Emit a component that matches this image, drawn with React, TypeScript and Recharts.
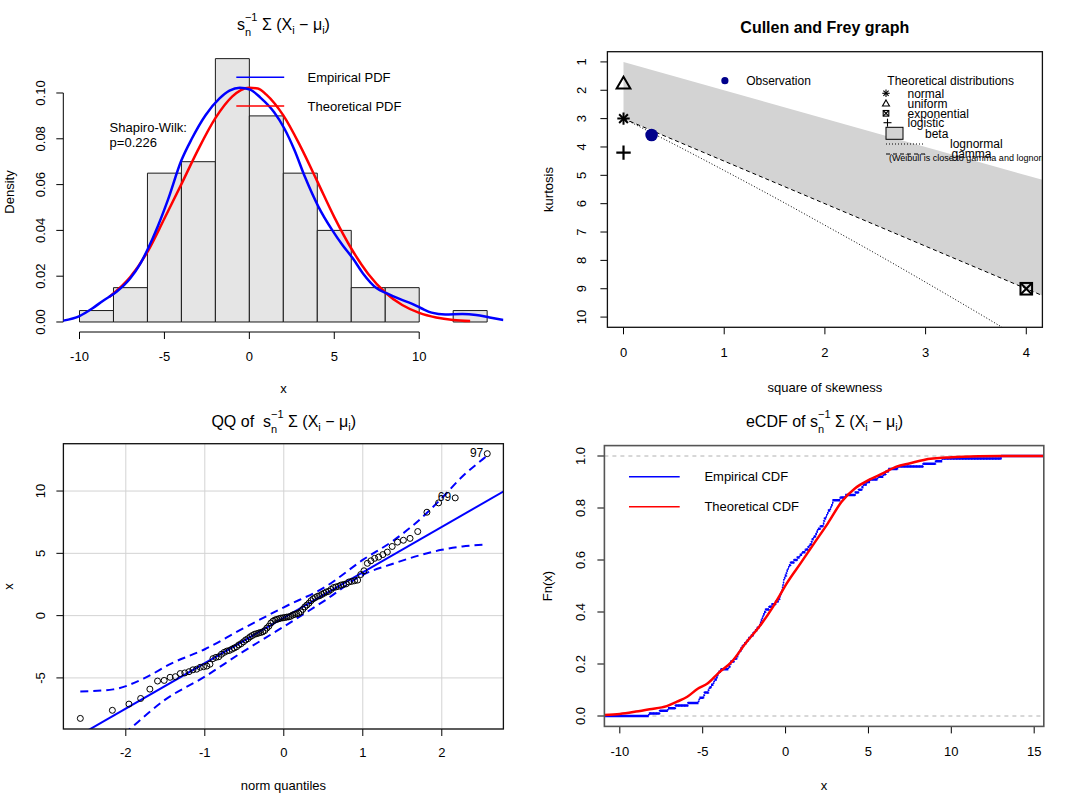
import React from 'react';
import { ComposedChart, Line, Scatter, Area, XAxis, YAxis, ReferenceArea, ReferenceLine, CartesianGrid } from 'recharts';

const FONT = '"Liberation Sans", Arial, Helvetica, sans-serif';

// ===== Panel 1: histogram with empirical / theoretical densities =====
const histBreaks = [-10, -8, -6, -4, -2, 0, 2, 4, 6, 8, 10, 12, 14];
const histDensity = [0.005, 0.015, 0.065, 0.07, 0.115, 0.09, 0.065, 0.04, 0.015, 0.015, 0, 0.005];
const kdeX = [-11.1, -10.95, -10, -9.23, -8.63, -7.82, -7.02, -6.41, -5.97, -5.4, -4.8, -4.0, -3.39, -2.58, -1.77, -1.17, -0.56, 0.04, 0.65, 1.45, 2.06, 2.66, 3.27, 4.07, 4.88, 5.48, 6.09, 6.69, 7.5, 8.1, 8.91, 9.52, 10.12, 10.73, 11.53, 12.54, 13.35, 14.15, 14.96];
const kdeY = [0.0004, 0.0006, 0.0026, 0.006, 0.0092, 0.0132, 0.019, 0.0256, 0.032, 0.0416, 0.0532, 0.0706, 0.080, 0.0903, 0.0975, 0.101, 0.1023, 0.1015, 0.098, 0.0917, 0.0845, 0.075, 0.0634, 0.0503, 0.0401, 0.0336, 0.0278, 0.0212, 0.0147, 0.0125, 0.0099, 0.0081, 0.006, 0.0041, 0.0033, 0.0035, 0.0031, 0.002, 0.0009];
const normPdfX = [-8.25, -7, -6, -5, -4, -3, -2, -1, -0.5, 0, 0.5, 1, 2, 3, 4, 5, 6, 7, 8, 9, 10, 11, 12, 13];
const normPdfY = [0.0109, 0.0197, 0.0306, 0.0452, 0.0602, 0.0755, 0.089, 0.0985, 0.1013, 0.1023, 0.102, 0.0993, 0.0902, 0.0768, 0.0614, 0.0458, 0.0321, 0.021, 0.0129, 0.0074, 0.004, 0.002, 0.0009, 0.0004];
const p1XTicks = [-10, -5, 0, 5, 10];
const p1YTicks = [0, 0.02, 0.04, 0.06, 0.08, 0.1];
const p1XDomain = [-10.954, 14.957];
const p1YDomain = [-0.004367, 0.11803];

// ===== Panel 2: Cullen and Frey graph =====
const p2XTicks = [0, 1, 2, 3, 4];
const p2YTicks = [1, 2, 3, 4, 5, 6, 7, 8, 9, 10];
const p2XDomain = [-0.16, 4.16];
const p2YDomain = [0.64, 10.36];
const betaX = [0, 4.16];
const betaUpperKurt = [1, 5.16];
const betaLowerKurt = [3, 9.24];
const gammaLineX = [0, 4.16];
const gammaLineY = [3, 9.24];
const lognormLineX = [0, 0.5, 1, 1.5, 2, 2.5, 3, 3.5, 4];
const lognormLineY = [3, 3.9, 4.83, 5.78, 6.76, 7.75, 8.77, 9.81, 10.87];
const cfObservation = [{ x: 0.279, y: 3.58 }];
const cfNormal = [{ x: 0, y: 3 }];
const cfUniform = [{ x: 0, y: 1.8 }];
const cfLogistic = [{ x: 0, y: 4.2 }];
const cfExponential = [{ x: 4, y: 9 }];

// ===== Panel 3: QQ plot =====
const qqTheoretical = [
  -2.5758, -2.1701, -1.96, -1.8119, -1.6954, -1.5982, -1.5141, -1.4395, -1.3722, -1.3106,
  -1.2536, -1.2004, -1.1503, -1.1031, -1.0581, -1.0152, -0.9741, -0.9346, -0.8965, -0.8596,
  -0.8239, -0.7892, -0.7554, -0.7225, -0.6903, -0.6588, -0.628, -0.5978, -0.5681, -0.5388,
  -0.5101, -0.4817, -0.4538, -0.4261, -0.3989, -0.3719, -0.3451, -0.3186, -0.2924, -0.2663,
  -0.2404, -0.2147, -0.1891, -0.1637, -0.1383, -0.113, -0.0878, -0.0627, -0.0376, -0.0125,
  0.0125, 0.0376, 0.0627, 0.0878, 0.113, 0.1383, 0.1637, 0.1891, 0.2147, 0.2404,
  0.2663, 0.2924, 0.3186, 0.3451, 0.3719, 0.3989, 0.4261, 0.4538, 0.4817, 0.5101,
  0.5388, 0.5681, 0.5978, 0.628, 0.6588, 0.6903, 0.7225, 0.7554, 0.7892, 0.8239,
  0.8596, 0.8965, 0.9346, 0.9741, 1.0152, 1.0581, 1.1031, 1.1503, 1.2004, 1.2536,
  1.3106, 1.3722, 1.4395, 1.5141, 1.5982, 1.6954, 1.8119, 1.96, 2.1701, 2.5758,
];
const qqSample = [
  -8.25, -7.6, -7.1, -6.65, -5.9, -5.25, -5.2, -4.95, -4.9, -4.65,
  -4.6, -4.5, -4.35, -4.3, -4.15, -4.1, -4.05, -3.9, -3.45, -3.35,
  -3.3, -3.1, -2.95, -2.85, -2.8, -2.7, -2.6, -2.5, -2.35, -2.25,
  -2.1, -1.95, -1.85, -1.7, -1.6, -1.5, -1.45, -1.4, -1.35, -1.3,
  -1.2, -1.0, -0.85, -0.6, -0.45, -0.35, -0.3, -0.25, -0.2, -0.18,
  -0.15, -0.12, -0.1, -0.05, 0.05, 0.1, 0.15, 0.2, 0.3, 0.5,
  0.7, 0.85, 1.0, 1.2, 1.35, 1.45, 1.55, 1.6, 1.7, 1.8,
  1.9, 1.95, 2.1, 2.25, 2.3, 2.35, 2.45, 2.5, 2.55, 2.7,
  2.75, 2.8, 2.85, 3.3, 3.6, 4.2, 4.4, 4.6, 4.7, 4.9,
  5.1, 5.55, 5.9, 6.05, 6.2, 6.75, 8.3, 9.05, 9.45, 13.0,
];
const qqLineX = [-2.79, 2.79];
const qqLineY = [-10.34, 10.0];
const envUpperX = [-2.576, -2.16, -1.77, -1.42, -1.0, -0.55, 0, 0.53, 1.0, 1.4, 1.74, 2.0, 2.26, 2.52, 2.576];
const envUpperY = [-6.1, -5.92, -5.04, -3.83, -2.7, -1.15, 0.67, 2.33, 4.47, 6.08, 7.82, 9.43, 11.17, 12.56, 12.85];
const envLowerX = [-2.576, -2.2, -1.94, -1.51, -1.0, -0.55, 0, 0.53, 1.0, 1.4, 1.74, 2.0, 2.26, 2.576];
const envLowerY = [-13.3, -10.5, -9.05, -6.78, -4.9, -3.03, -0.88, 1.26, 3.27, 4.2, 4.88, 5.28, 5.55, 5.7];
const qqLabels = [{ x: 2.5758, y: 13.0, label: '97' }, { x: 2.1701, y: 9.45, label: '69' }];
const p3XTicks = [-2, -1, 0, 1, 2];
const p3YTicks = [-5, 0, 5, 10];
const p3XDomain = [-2.79, 2.78];
const p3YDomain = [-9.1, 13.8];

// ===== Panel 4: eCDF =====
const cdfX = [-10.93, -10, -9.03, -8.2, -7.17, -6.55, -5.93, -5.3, -4.69, -4.07, -3.24, -2.41, -1.58, -0.76, -0.34, 0.07, 0.9, 1.72, 2.55, 3.38, 4.2, 5.03, 5.86, 6.69, 7.52, 8.34, 10, 11.65, 13, 15.58];
const cdfY = [0.004, 0.008, 0.017, 0.026, 0.038, 0.055, 0.074, 0.105, 0.126, 0.164, 0.209, 0.28, 0.344, 0.42, 0.465, 0.51, 0.587, 0.664, 0.741, 0.824, 0.876, 0.908, 0.933, 0.959, 0.972, 0.985, 0.995, 0.999, 1.0, 1.0];
const p4XTicks = [-10, -5, 0, 5, 10, 15];
const p4YTicks = [0, 0.2, 0.4, 0.6, 0.8, 1.0];
const p4XDomain = [-10.93, 15.58];
const p4YDomain = [-0.04, 1.04];

// ===== layout =====
type Geo = { figX: number; figY: number; figW: number; figH: number; left: number; top: number; right: number; bottom: number };
const G1: Geo = { figX: 0, figY: 0, figW: 538, figH: 396, left: 63.3, top: 51.7, right: 503.4, bottom: 332 };
const G2: Geo = { figX: 538, figY: 0, figW: 539, figH: 396, left: 607.4, top: 51.7, right: 1042.4, bottom: 327.3 };
const G3: Geo = { figX: 0, figY: 396, figW: 538, figH: 397, left: 63.4, top: 443.7, right: 503.4, bottom: 729 };
const G4: Geo = { figX: 538, figY: 396, figW: 539, figH: 397, left: 604.4, top: 445.6, right: 1043.8, bottom: 726.4 };

const AX = 0.01; // tiny axis thickness so the axis still renders its ticks

const marginOf = (g: Geo, ax: number = AX) => ({
  left: g.left - g.figX - ax,
  top: g.top - g.figY,
  right: g.figX + g.figW - g.right,
  bottom: g.figY + g.figH - g.bottom - ax,
});

const makeXTick = (g: Geo, centerBelow: number, fmt: (v: number) => string) => {
  const base = g.bottom - g.figY + centerBelow + 4.65;
  return (props: any) => (
    <text x={props.x} y={base} textAnchor="middle" fontSize={13} fontFamily={FONT} fill="#000">
      {fmt(props.payload.value)}
    </text>
  );
};
const makeYTick = (g: Geo, centerLeft: number, fmt: (v: number) => string) => {
  const bx = g.left - g.figX - centerLeft + 4.65;
  return (props: any) => (
    <text x={bx} y={props.y} transform={`rotate(-90 ${bx} ${props.y})`} textAnchor="middle" fontSize={13} fontFamily={FONT} fill="#000">
      {fmt(props.payload.value)}
    </text>
  );
};

const axisCommon = {
  type: 'number' as const,
  axisLine: false,
  tickLine: { stroke: '#000', strokeWidth: 1 },
  tickSize: 7,
  tickMargin: 0,
  interval: 0 as const,
  allowDataOverflow: true,
};

const zip = (xs: number[], ys: number[]) => xs.map((x, i) => ({ x, y: ys[i] }));

// ===== symbol shapes =====
const Asterisk = ({ cx, cy, a, w }: any) => {
  const d = a * 0.7071;
  return (
    <g stroke="#000" strokeWidth={w} strokeLinecap="butt">
      <line x1={cx - a} y1={cy} x2={cx + a} y2={cy} />
      <line x1={cx} y1={cy - a} x2={cx} y2={cy + a} />
      <line x1={cx - d} y1={cy - d} x2={cx + d} y2={cy + d} />
      <line x1={cx - d} y1={cy + d} x2={cx + d} y2={cy - d} />
    </g>
  );
};
const Triangle = ({ cx, cy, R, w }: any) => (
  <polygon
    points={`${cx},${cy - 1.555 * R} ${cx + 1.3468 * R},${cy + 0.7776 * R} ${cx - 1.3468 * R},${cy + 0.7776 * R}`}
    fill="none" stroke="#000" strokeWidth={w} strokeLinejoin="miter"
  />
);
const Plus = ({ cx, cy, a, w }: any) => (
  <g stroke="#000" strokeWidth={w}>
    <line x1={cx - a} y1={cy} x2={cx + a} y2={cy} />
    <line x1={cx} y1={cy - a} x2={cx} y2={cy + a} />
  </g>
);
const BoxX = ({ cx, cy, h, w }: any) => (
  <g stroke="#000" strokeWidth={w} fill="none">
    <rect x={cx - h} y={cy - h} width={2 * h} height={2 * h} />
    <line x1={cx - h} y1={cy - h} x2={cx + h} y2={cy + h} />
    <line x1={cx - h} y1={cy + h} x2={cx + h} y2={cy - h} />
  </g>
);

// ===== panels =====
function Panel1() {
  return (
    <>
      <div style={{ position: 'absolute', left: G1.figX, top: G1.figY }}>
        <ComposedChart width={G1.figW} height={G1.figH} margin={marginOf(G1)}>
          <XAxis {...axisCommon} dataKey="x" domain={p1XDomain} ticks={p1XTicks} height={AX} tick={makeXTick(G1, 24, (v) => String(v))} />
          <YAxis {...axisCommon} dataKey="y" domain={p1YDomain} ticks={p1YTicks} width={AX} tick={makeYTick(G1, 22.9, (v) => v.toFixed(2))} />
          {histDensity.map((d, i) => (
            <ReferenceArea key={i} x1={histBreaks[i]} x2={histBreaks[i + 1]} y1={0} y2={d} fill="#E5E5E5" fillOpacity={1} stroke="#1a1a1a" strokeWidth={1} ifOverflow="visible" />
          ))}
          <ReferenceLine segment={[{ x: -10, y: p1YDomain[0] }, { x: 10, y: p1YDomain[0] }]} stroke="#000" strokeWidth={1} ifOverflow="visible" />
          <ReferenceLine segment={[{ x: p1XDomain[0], y: 0 }, { x: p1XDomain[0], y: 0.1 }]} stroke="#000" strokeWidth={1} ifOverflow="visible" />
        </ComposedChart>
      </div>
      <div style={{ position: 'absolute', left: G1.figX, top: G1.figY }}>
        <ComposedChart width={G1.figW} height={G1.figH} margin={marginOf(G1, 0)}>
          <XAxis type="number" dataKey="x" domain={p1XDomain} allowDataOverflow hide />
          <YAxis type="number" dataKey="y" domain={p1YDomain} allowDataOverflow hide />
          <Line data={zip(normPdfX, normPdfY)} dataKey="y" type="monotone" stroke="#FF0000" strokeWidth={2.5} dot={false} isAnimationActive={false} />
          <Line data={zip(kdeX, kdeY)} dataKey="y" type="monotone" stroke="#0000FF" strokeWidth={2.5} dot={false} isAnimationActive={false} />
        </ComposedChart>
      </div>
    </>
  );
}

function Panel2() {
  const beta = betaX.map((x, i) => ({ x, y: [betaUpperKurt[i], betaLowerKurt[i]] }));
  return (
    <div style={{ position: 'absolute', left: G2.figX, top: G2.figY }}>
      <ComposedChart width={G2.figW} height={G2.figH} margin={marginOf(G2)}>
        <XAxis {...axisCommon} dataKey="x" domain={p2XDomain} ticks={p2XTicks} height={AX} tick={makeXTick(G2, 25.4, (v) => String(v))} />
        <YAxis {...axisCommon} dataKey="y" domain={p2YDomain} ticks={p2YTicks} width={AX} reversed tick={makeYTick(G2, 26.3, (v) => String(v))} />
        <Area data={beta} dataKey="y" type="linear" stroke="none" fill="#D3D3D3" fillOpacity={1} isAnimationActive={false} />
        <Line data={zip(gammaLineX, gammaLineY)} dataKey="y" type="linear" stroke="#000" strokeWidth={1} strokeDasharray="4 3" dot={false} isAnimationActive={false} />
        <Line data={zip(lognormLineX, lognormLineY)} dataKey="y" type="monotone" stroke="#000" strokeWidth={1} strokeDasharray="1 2" dot={false} isAnimationActive={false} />
        <Scatter data={cfUniform} isAnimationActive={false} shape={(p: any) => <Triangle cx={p.cx} cy={p.cy} R={5.1} w={2} />} />
        <Scatter data={cfNormal} isAnimationActive={false} shape={(p: any) => <Asterisk cx={p.cx} cy={p.cy} a={6.2} w={2} />} />
        <Scatter data={cfLogistic} isAnimationActive={false} shape={(p: any) => <Plus cx={p.cx} cy={p.cy} a={7.2} w={2.2} />} />
        <Scatter data={cfExponential} isAnimationActive={false} shape={(p: any) => <BoxX cx={p.cx} cy={p.cy} h={5.8} w={2} />} />
        <Scatter data={cfObservation} isAnimationActive={false} shape={(p: any) => <circle cx={p.cx} cy={p.cy} r={6.3} fill="#00008B" />} />
      </ComposedChart>
    </div>
  );
}

function Panel3() {
  const pts = zip(qqTheoretical, qqSample);
  return (
    <div style={{ position: 'absolute', left: G3.figX, top: G3.figY }}>
      <ComposedChart width={G3.figW} height={G3.figH} margin={marginOf(G3)}>
        <CartesianGrid stroke="#D3D3D3" strokeWidth={1} />
        <XAxis {...axisCommon} dataKey="x" domain={p3XDomain} ticks={p3XTicks} height={AX} tick={makeXTick(G3, 23.7, (v) => String(v))} />
        <YAxis {...axisCommon} dataKey="y" domain={p3YDomain} ticks={p3YTicks} width={AX} tick={makeYTick(G3, 23, (v) => String(v))} />
        <Scatter data={pts} isAnimationActive={false} shape={(p: any) => <circle cx={p.cx} cy={p.cy} r={3} fill="none" stroke="#000" strokeWidth={1} />} />
        <Line data={zip(envUpperX, envUpperY)} dataKey="y" type="monotone" stroke="#0000FF" strokeWidth={2} strokeDasharray="8 5" dot={false} isAnimationActive={false} />
        <Line data={zip(envLowerX, envLowerY)} dataKey="y" type="monotone" stroke="#0000FF" strokeWidth={2} strokeDasharray="8 5" dot={false} isAnimationActive={false} />
        <Line data={zip(qqLineX, qqLineY)} dataKey="y" type="linear" stroke="#0000FF" strokeWidth={2} dot={false} isAnimationActive={false} />
        <Scatter data={qqLabels} isAnimationActive={false} shape={(p: any) => (
          <text x={p.cx - 4} y={p.cy + 3.3} textAnchor="end" fontSize={12} fontFamily={FONT} fill="#000">{p.payload.label}</text>
        )} />
      </ComposedChart>
    </div>
  );
}

function Panel4() {
  const n = qqSample.length;
  const steps = [{ x: p4XDomain[0], y: 0 }, ...qqSample.map((v, i) => ({ x: v, y: (i + 1) / n })), { x: p4XDomain[1], y: 1 }];
  const horiz: { x: number; y: number | null }[] = [];
  for (let k = 0; k < steps.length - 1; k++) {
    horiz.push({ x: steps[k].x, y: steps[k].y });
    horiz.push({ x: steps[k + 1].x, y: steps[k].y });
    horiz.push({ x: steps[k + 1].x, y: null });
  }
  return (
    <div style={{ position: 'absolute', left: G4.figX, top: G4.figY }}>
      <ComposedChart width={G4.figW} height={G4.figH} margin={marginOf(G4)}>
        <XAxis {...axisCommon} dataKey="x" domain={p4XDomain} ticks={p4XTicks} height={AX} tick={makeXTick(G4, 25.3, (v) => String(v))} />
        <YAxis {...axisCommon} dataKey="y" domain={p4YDomain} ticks={p4YTicks} width={AX} tick={makeYTick(G4, 24, (v) => v.toFixed(1))} />
        <ReferenceLine y={0} stroke="#B0B0B0" strokeDasharray="4 4" strokeWidth={1} />
        <ReferenceLine y={1} stroke="#B0B0B0" strokeDasharray="4 4" strokeWidth={1} />
        <Line data={steps} dataKey="y" type="stepAfter" stroke="#0000FF" strokeWidth={1.6} strokeDasharray="1.5 1.5" dot={false} isAnimationActive={false} />
        <Line data={horiz} dataKey="y" type="linear" stroke="#0000FF" strokeWidth={2.5} dot={false} isAnimationActive={false} />
        <Line data={zip(cdfX, cdfY)} dataKey="y" type="monotone" stroke="#FF0000" strokeWidth={2.5} dot={false} isAnimationActive={false} />
      </ComposedChart>
    </div>
  );
}

function MathTitle({ cx, y, prefix }: { cx: number; y: number; prefix: string }) {
  return (
    <text x={cx} y={y} textAnchor="middle" fontSize={16} fill="#000">
      <tspan>{prefix + 's'}</tspan>
      <tspan fontSize={11} dy={-9}>{'\u22121'}</tspan>
      <tspan fontSize={11} dx={-12.5} dy={14.5}>n</tspan>
      <tspan dx={6.4} dy={-5.5}>{'\u00A0\u03A3\u00A0(X'}</tspan>
      <tspan fontSize={11} dy={3.5}>i</tspan>
      <tspan dy={-3.5}>{'\u00A0\u2212\u00A0\u03BC'}</tspan>
      <tspan fontSize={11} dy={3.5}>i</tspan>
      <tspan dy={-3.5}>)</tspan>
    </text>
  );
}

function RotLabel({ x, y, text }: { x: number; y: number; text: string }) {
  return (
    <text x={x} y={y} transform={`rotate(-90 ${x} ${y})`} textAnchor="middle" fontSize={13} fill="#000">{text}</text>
  );
}

function Overlay() {
  return (
    <svg width={1077} height={793} style={{ position: 'absolute', left: 0, top: 0, pointerEvents: 'none' }} fontFamily={FONT}>
      <defs>
        <clipPath id="p2clip">
          <rect x={G2.left} y={G2.top} width={G2.right - G2.left} height={G2.bottom - G2.top} />
        </clipPath>
      </defs>
      {/* boxes */}
      <rect x={G2.left} y={G2.top} width={G2.right - G2.left} height={G2.bottom - G2.top} fill="none" stroke="#111" strokeWidth={1.3} />
      <rect x={G3.left} y={G3.top} width={G3.right - G3.left} height={G3.bottom - G3.top} fill="none" stroke="#111" strokeWidth={1.3} />
      <rect x={G4.left} y={G4.top} width={G4.right - G4.left} height={G4.bottom - G4.top} fill="none" stroke="#555" strokeWidth={1.6} />

      {/* Panel 1 texts */}
      <MathTitle cx={283.4} y={30} prefix="" />
      <RotLabel x={13.5} y={192} text="Density" />
      <text x={283.4} y={392.5} textAnchor="middle" fontSize={13}>x</text>
      <line x1={236.3} y1={77.3} x2={284.2} y2={77.3} stroke="#0000FF" strokeWidth={1.5} />
      <line x1={236.3} y1={106} x2={284.2} y2={106} stroke="#FF0000" strokeWidth={1.5} />
      <text x={307.5} y={81.8} fontSize={13}>Empirical PDF</text>
      <text x={307.5} y={110.6} fontSize={13}>Theoretical PDF</text>
      <text x={109.6} y={132} fontSize={13}>Shapiro-Wilk:</text>
      <text x={109.6} y={147} fontSize={13}>p=0.226</text>

      {/* Panel 2 texts */}
      <text x={824.8} y={32.5} textAnchor="middle" fontSize={16} fontWeight="bold">Cullen and Frey graph</text>
      <RotLabel x={553} y={189.5} text="kurtosis" />
      <text x={824.9} y={392} textAnchor="middle" fontSize={13}>square of skewness</text>
      <circle cx={724.9} cy={80.7} r={3.6} fill="#00008B" />
      <text x={746.2} y={85} fontSize={12}>Observation</text>
      <text x={887.3} y={85} fontSize={12}>Theoretical distributions</text>
      <Asterisk cx={886} cy={93.3} a={3.7} w={1.1} />
      <text x={907.5} y={97.6} fontSize={12}>normal</text>
      <Triangle cx={886} cy={104} R={2.6} w={1.1} />
      <text x={907.5} y={107.6} fontSize={12}>uniform</text>
      <BoxX cx={886} cy={113.3} h={2.8} w={1.1} />
      <text x={907.5} y={117.6} fontSize={12}>exponential</text>
      <Plus cx={887.5} cy={122.7} a={4} w={1.1} />
      <text x={907.5} y={126.5} fontSize={12}>logistic</text>
      <rect x={886} y={127.3} width={17} height={12} fill="#D3D3D3" stroke="#000" strokeWidth={1} />
      <text x={925} y={138.3} fontSize={12}>beta</text>
      <line x1={886} y1={144} x2={924} y2={144} stroke="#000" strokeWidth={1} strokeDasharray="1 2" />
      <text x={950} y={147.6} fontSize={12}>lognormal</text>
      <line x1={886} y1={154} x2={928} y2={154} stroke="#000" strokeWidth={1} strokeDasharray="4 3" />
      <text x={951.5} y={157.6} fontSize={12}>gamma</text>
      <g clipPath="url(#p2clip)">
        <text x={889} y={160.6} fontSize={9}>(Weibull is close to gamma and lognormal)</text>
      </g>

      {/* Panel 3 texts */}
      <MathTitle cx={283.7} y={427} prefix={'QQ of\u00A0\u00A0'} />
      <RotLabel x={13} y={586.4} text="x" />
      <text x={283.4} y={789.5} textAnchor="middle" fontSize={13}>norm quantiles</text>

      {/* Panel 4 texts */}
      <MathTitle cx={824.5} y={427} prefix={'eCDF of\u00A0'} />
      <RotLabel x={552} y={586} text="Fn(x)" />
      <text x={824.1} y={790} textAnchor="middle" fontSize={13}>x</text>
      <line x1={629} y1={476.7} x2={679.7} y2={476.7} stroke="#0000FF" strokeWidth={1.5} />
      <line x1={629} y1={506.7} x2={679.7} y2={506.7} stroke="#FF0000" strokeWidth={1.5} />
      <text x={704.4} y={481.4} fontSize={13}>Empirical CDF</text>
      <text x={704.4} y={511.4} fontSize={13}>Theoretical CDF</text>
    </svg>
  );
}

export default function App() {
  return (
    <div style={{ position: 'absolute', left: 0, top: 0, width: 1077, height: 793, background: '#fff', fontFamily: FONT, overflow: 'hidden' }}>
      <Panel1 />
      <Panel2 />
      <Panel3 />
      <Panel4 />
      <Overlay />
    </div>
  );
}
